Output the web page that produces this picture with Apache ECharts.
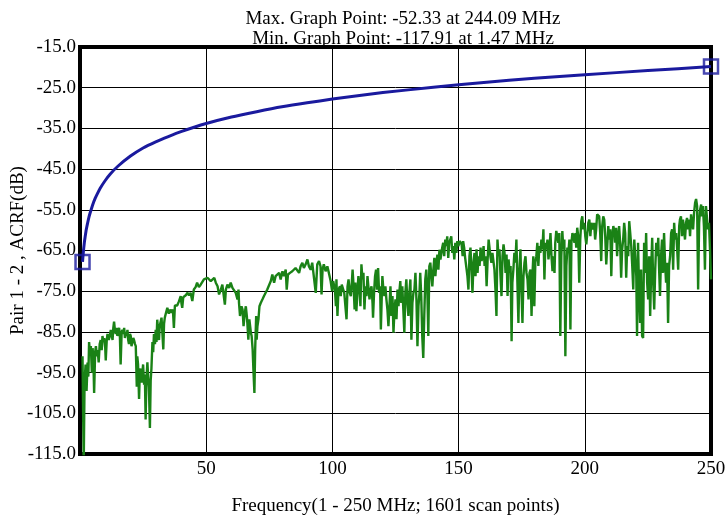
<!DOCTYPE html>
<html>
<head>
<meta charset="utf-8">
<script src="https://cdn.jsdelivr.net/npm/echarts@6/dist/echarts.min.js"></script>
<style>
  html, body { margin: 0; padding: 0; background: #fff; }
  #main { width: 727px; height: 515px; }
</style>
</head>
<body>
<div id="main"></div>
<script>
// limit line (blue)
const limitFreq = [1, 1.25, 1.5, 1.75, 2, 2.5, 3, 3.5, 4, 5, 6, 7, 8, 10, 12, 15, 20, 25, 30, 35, 40, 50, 60, 70, 80, 90, 100, 120, 140, 160, 180, 200, 225, 250];
const limitDb = [-67.8, -65.9, -64.3, -62.9, -61.8, -59.8, -58.3, -56.9, -55.8, -53.8, -52.2, -50.9, -49.7, -47.8, -46.2, -44.3, -41.8, -39.8, -38.3, -37.0, -35.8, -33.8, -32.2, -30.9, -29.7, -28.7, -27.8, -26.2, -24.9, -23.7, -22.7, -21.8, -20.8, -19.8];

// measured ACRF (green), [MHz, dB]
const acrf1to50 = [[1.0,-91.0],[1.47,-117.91],[1.8,-97.5],[2.2,-93.0],[2.6,-99.5],[3.0,-92.5],[3.3,-96.0],[3.6,-87.5],[4.0,-90.5],[4.3,-88.5],[4.7,-95.0],[5.0,-89.0],[5.3,-92.0],[5.6,-100.0],[6.0,-90.0],[6.3,-88.5],[6.7,-91.0],[7.0,-89.5],[7.4,-92.5],[7.8,-88.0],[8.2,-87.0],[8.6,-89.5],[8.9,-86.0],[9.3,-87.5],[9.6,-86.5],[10.0,-89.0],[10.2,-92.0],[10.6,-87.0],[10.9,-85.5],[11.4,-87.0],[11.8,-86.0],[12.2,-84.5],[12.6,-86.0],[12.9,-87.0],[13.2,-84.0],[13.5,-82.5],[13.9,-85.0],[14.2,-85.5],[14.5,-84.0],[14.8,-86.0],[15.2,-84.5],[15.5,-84.0],[15.8,-86.0],[16.1,-93.0],[16.5,-85.0],[16.8,-84.5],[17.2,-85.5],[17.5,-84.0],[17.8,-86.5],[18.1,-85.0],[18.5,-86.0],[18.8,-84.5],[19.1,-87.0],[19.4,-88.0],[19.8,-85.5],[20.1,-86.0],[20.4,-88.5],[20.8,-88.5],[21.1,-86.5],[21.4,-87.0],[21.8,-88.0],[22.1,-88.5],[22.5,-98.5],[22.7,-91.0],[23.0,-93.0],[23.4,-101.5],[23.7,-95.0],[24.0,-94.0],[24.4,-97.5],[24.7,-97.5],[25.0,-93.0],[25.4,-98.0],[25.7,-95.5],[26.0,-106.5],[26.3,-97.0],[26.7,-92.5],[27.0,-96.0],[27.3,-98.5],[27.7,-108.6],[28.0,-97.0],[28.3,-94.0],[28.7,-87.5],[29.0,-90.0],[29.3,-85.5],[29.7,-88.0],[30.0,-84.5],[30.3,-87.5],[30.6,-82.0],[31.0,-85.0],[31.3,-87.0],[31.6,-83.5],[32.0,-83.6],[32.3,-81.5],[32.6,-81.1],[33.0,-89.3],[33.3,-83.0],[33.6,-81.5],[34.0,-80.5],[34.6,-79.1],[35.2,-80.5],[35.9,-79.5],[36.3,-80.3],[36.8,-79.5],[37.2,-84.0],[37.6,-78.5],[37.9,-78.3],[38.5,-78.5],[39.2,-77.5],[39.9,-76.2],[40.2,-78.0],[40.5,-79.1],[40.9,-76.5],[41.2,-76.2],[41.9,-76.0],[42.5,-75.4],[43.2,-76.0],[43.8,-75.4],[44.5,-77.4],[45.1,-74.6],[45.8,-74.0],[46.4,-72.9],[47.1,-74.0],[47.8,-73.4],[48.4,-73.0],[49.1,-72.1],[49.8,-72.5]];

const acrf50to100 = [[50.5,-71.7],[51.8,-72.5],[53.2,-71.7],[53.8,-72.9],[54.5,-73.8],[55.1,-75.8],[55.8,-74.6],[56.4,-73.4],[57.1,-73.8],[57.4,-78.3],[57.8,-74.6],[58.4,-73.4],[59.1,-74.2],[59.7,-72.9],[60.4,-74.2],[61.1,-74.6],[61.7,-75.4],[62.4,-77.0],[62.8,-74.6],[63.0,-77.9],[63.4,-81.1],[64.0,-78.7],[64.4,-79.5],[64.8,-83.6],[65.3,-80.3],[65.7,-78.7],[66.1,-81.1],[66.3,-82.8],[66.7,-86.9],[67.1,-81.9],[67.7,-85.2],[68.0,-86.0],[68.4,-89.3],[68.7,-94.2],[69.1,-100.0],[69.4,-89.3],[69.8,-81.1],[70.0,-86.9],[70.3,-83.6],[70.7,-81.9],[71.1,-78.7],[71.6,-77.9],[72.3,-77.0],[72.9,-76.2],[73.6,-75.8],[74.2,-74.6],[74.9,-74.2],[75.6,-72.5],[76.2,-70.9],[76.9,-72.9],[77.5,-71.3],[78.2,-71.7],[78.9,-70.5],[79.5,-72.1],[80.2,-70.1],[80.8,-71.3],[81.5,-69.7],[81.9,-74.6],[82.4,-70.9],[83.2,-70.5],[84.1,-70.1],[84.8,-70.5],[85.4,-69.3],[86.1,-68.9],[86.8,-70.5],[87.4,-68.9],[88.1,-68.0],[88.7,-69.3],[89.4,-68.4],[90.1,-67.2],[90.7,-68.9],[91.4,-69.7],[92.0,-68.0],[92.7,-68.4],[93.4,-75.4],[94.0,-68.4],[94.7,-67.6],[95.3,-68.9],[95.7,-75.8],[96.1,-69.7],[96.6,-68.4],[97.3,-70.1],[98.0,-68.9],[98.6,-70.5],[99.3,-72.5],[99.9,-75.0]];

const acrf100to150 = [[100.3,-72.5],[101.0,-74.6],[101.4,-78.7],[101.6,-72.1],[102.0,-81.1],[102.4,-74.6],[103.0,-73.8],[103.3,-76.2],[103.7,-73.4],[104.3,-74.6],[104.7,-75.4],[105.2,-75.4],[105.6,-81.9],[106.0,-73.8],[106.4,-72.1],[106.9,-75.4],[107.3,-76.2],[107.7,-72.9],[108.0,-69.7],[108.4,-73.8],[108.8,-79.5],[109.1,-72.9],[109.5,-79.9],[109.9,-75.4],[110.3,-71.3],[110.7,-73.8],[111.1,-78.7],[111.5,-68.4],[111.9,-72.1],[112.3,-70.5],[112.7,-79.5],[113.1,-73.8],[113.5,-76.2],[113.9,-71.3],[114.3,-74.2],[114.7,-77.0],[115.1,-74.6],[115.5,-73.8],[115.9,-77.9],[116.1,-81.5],[116.5,-75.4],[116.9,-71.3],[117.3,-69.7],[117.7,-74.6],[118.1,-69.3],[118.5,-75.4],[118.9,-73.8],[119.2,-84.4],[119.6,-75.4],[119.8,-71.3],[120.2,-74.6],[120.6,-76.2],[121.0,-73.8],[121.4,-77.0],[121.8,-79.5],[122.2,-83.6],[122.6,-78.7],[123.0,-73.8],[123.4,-81.1],[123.8,-76.2],[124.2,-85.2],[124.6,-79.5],[125.0,-77.0],[125.4,-81.9],[125.8,-74.6],[126.2,-78.7],[126.5,-75.4],[126.9,-72.5],[127.3,-77.9],[127.7,-73.8],[128.1,-79.5],[128.5,-85.2],[128.9,-75.4],[129.3,-72.1],[129.7,-77.9],[130.1,-81.1],[130.5,-75.4],[130.9,-72.1],[131.3,-86.9],[131.7,-77.9],[132.1,-75.4],[132.5,-74.6],[132.9,-70.5],[133.3,-77.0],[133.7,-88.5],[134.1,-78.7],[134.5,-75.4],[134.8,-70.5],[135.2,-76.2],[135.6,-86.0],[136.0,-91.4],[136.4,-81.1],[136.8,-72.1],[137.2,-69.7],[137.6,-74.6],[138.0,-86.0],[138.4,-68.9],[138.8,-68.0],[139.2,-71.3],[139.6,-73.8],[140.0,-69.7],[140.4,-66.8],[140.8,-71.3],[141.2,-68.0],[141.6,-66.0],[142.0,-69.7],[142.4,-64.8],[142.8,-67.2],[143.2,-65.6],[143.5,-64.3],[143.9,-63.1],[144.3,-66.4],[144.7,-62.3],[145.1,-63.9],[145.5,-61.5],[145.9,-66.8],[146.3,-63.1],[146.7,-62.3],[147.1,-61.5],[147.5,-65.6],[147.9,-63.9],[148.3,-67.2],[148.7,-63.1],[149.1,-65.6],[149.5,-62.7],[149.9,-63.9]];

const acrf150to200 = [[150.5,-62.7],[151.2,-63.5],[151.6,-66.4],[151.8,-62.7],[152.2,-64.3],[152.6,-66.8],[153.2,-67.2],[153.5,-71.3],[153.9,-74.6],[154.3,-66.4],[154.7,-64.3],[155.1,-69.7],[155.5,-75.4],[155.9,-68.0],[156.3,-65.6],[156.7,-71.3],[157.1,-64.7],[157.5,-70.5],[157.9,-66.4],[158.3,-68.8],[158.7,-64.3],[159.1,-67.6],[159.5,-66.4],[159.9,-63.9],[160.3,-68.8],[160.7,-66.4],[161.1,-73.8],[161.5,-67.2],[161.9,-62.3],[162.2,-61.9],[162.6,-66.4],[163.0,-68.0],[163.4,-65.6],[163.8,-67.6],[164.2,-69.7],[164.6,-74.6],[165.0,-81.1],[165.4,-62.3],[165.8,-66.4],[166.2,-64.7],[166.6,-71.3],[167.0,-76.2],[167.4,-66.4],[167.8,-63.5],[168.2,-65.6],[168.6,-70.5],[169.0,-66.0],[169.4,-76.2],[169.8,-67.2],[170.2,-70.5],[170.6,-68.8],[171.0,-87.3],[171.3,-72.9],[171.7,-69.7],[172.1,-65.6],[172.5,-68.0],[172.9,-62.3],[173.3,-72.9],[173.7,-82.8],[174.1,-69.7],[174.5,-64.7],[174.9,-74.6],[175.3,-82.8],[175.7,-71.3],[176.1,-68.0],[176.5,-66.4],[176.9,-70.5],[177.3,-72.1],[177.7,-77.0],[178.1,-70.5],[178.5,-69.7],[178.9,-81.1],[179.3,-70.5],[179.6,-66.4],[180.0,-78.7],[180.4,-68.0],[180.8,-66.4],[181.2,-63.1],[181.6,-68.8],[182.0,-63.9],[182.4,-65.6],[182.8,-62.3],[183.2,-64.7],[183.6,-59.8],[184.0,-72.1],[184.4,-63.1],[184.8,-64.7],[185.2,-62.3],[185.6,-67.2],[186.0,-64.7],[186.4,-60.7],[186.8,-66.4],[187.2,-70.1],[187.6,-66.4],[188.0,-70.5],[188.3,-63.1],[188.7,-60.2],[189.1,-61.5],[189.5,-63.1],[189.9,-60.7],[190.3,-86.0],[190.7,-66.4],[191.1,-60.2],[191.5,-64.7],[191.9,-62.3],[192.3,-91.0],[192.7,-68.8],[193.1,-64.3],[193.5,-65.6],[193.9,-62.3],[194.3,-84.4],[194.7,-63.1],[195.1,-60.7],[195.5,-61.5],[195.9,-63.1],[196.3,-60.7],[196.6,-64.3],[197.0,-59.4],[197.4,-61.5],[197.8,-72.9],[198.2,-62.3],[198.6,-57.8],[199.0,-56.6],[199.4,-59.8],[199.8,-58.2]];

const acrf200to250 = [[200.2,-61.5],[200.6,-63.5],[201.0,-60.7],[201.4,-58.2],[201.8,-57.4],[202.2,-61.5],[202.6,-58.2],[203.0,-57.8],[203.3,-59.8],[203.7,-58.2],[204.1,-62.3],[204.5,-59.8],[204.9,-56.1],[205.3,-55.7],[205.7,-56.6],[206.1,-60.7],[206.5,-67.6],[206.9,-59.0],[207.3,-56.6],[207.7,-57.4],[208.1,-61.5],[208.5,-68.4],[208.9,-63.9],[209.3,-59.0],[209.7,-62.3],[210.1,-59.8],[210.5,-71.3],[210.9,-61.5],[211.3,-59.0],[211.7,-60.2],[212.0,-63.1],[212.4,-59.4],[212.8,-66.4],[213.2,-61.5],[213.6,-59.0],[214.0,-63.1],[214.4,-71.7],[214.8,-64.7],[215.2,-62.3],[215.6,-58.2],[216.0,-60.7],[216.4,-71.7],[216.8,-63.9],[217.2,-66.4],[217.6,-57.8],[218.0,-60.7],[218.4,-63.9],[218.8,-68.8],[219.2,-74.6],[219.6,-62.3],[220.0,-66.4],[220.4,-71.3],[220.7,-86.0],[221.1,-63.1],[221.5,-74.6],[221.9,-82.8],[222.3,-69.7],[222.7,-86.0],[223.1,-86.5],[223.5,-63.1],[223.9,-70.5],[224.3,-60.7],[224.7,-72.9],[225.1,-77.0],[225.5,-66.4],[225.9,-81.1],[226.3,-69.7],[226.7,-61.9],[227.1,-72.9],[227.5,-79.5],[227.9,-69.7],[228.3,-63.1],[228.7,-66.4],[229.1,-61.9],[229.4,-68.8],[229.8,-76.2],[230.2,-66.4],[230.6,-62.3],[231.0,-70.5],[231.4,-60.7],[231.8,-68.0],[232.2,-72.9],[232.6,-68.0],[233.0,-82.8],[233.4,-68.8],[233.8,-66.4],[234.2,-60.7],[234.6,-59.8],[235.0,-69.7],[235.4,-58.2],[235.8,-62.3],[236.2,-60.7],[236.6,-64.7],[237.0,-69.7],[237.4,-59.0],[237.7,-57.4],[238.1,-56.6],[238.5,-61.5],[238.9,-57.4],[239.3,-59.8],[239.7,-62.3],[240.1,-58.2],[240.5,-57.0],[240.9,-59.8],[241.3,-57.4],[241.7,-61.5],[242.1,-56.1],[242.5,-58.2],[242.9,-59.8],[243.3,-55.7],[243.7,-53.3],[244.09,-52.33],[244.5,-54.1],[244.9,-74.6],[245.3,-58.2],[245.7,-54.9],[246.1,-53.7],[246.4,-56.6],[246.8,-54.1],[247.2,-59.0],[247.6,-69.7],[248.0,-54.1],[248.4,-53.7],[248.8,-59.8],[249.2,-58.2],[249.6,-64.7],[250.0,-72.1]];

const yMin = -115, yMax = -15, yStep = 10;
const xMax = 250, xStep = 50;

const titleLines = ['Max. Graph Point: -52.33 at 244.09 MHz', 'Min. Graph Point: -117.91 at 1.47 MHz'];
const xName = 'Frequency(1 - 250 MHz; 1601 scan points)';
const yName = 'Pair 1 - 2 , ACRF(dB)';

const FONT = '"Liberation Serif", "Times New Roman", serif';
const BLUE = '#1a1a9e';
const GREEN = '#1a8216';

const limitData = limitFreq.map((f, i) => [f, limitDb[i]]);
const measured = acrf1to50.concat(acrf50to100, acrf100to150, acrf150to200, acrf200to250);

const chart = echarts.init(document.getElementById('main'), null, { renderer: 'canvas' });
chart.setOption({
  animation: false,
  backgroundColor: '#fff',
  title: {
    text: titleLines.join('\n'),
    left: 398,
    top: 4,
    textAlign: 'center',
    textStyle: { fontFamily: FONT, fontSize: 19, fontWeight: 'normal', color: '#000', lineHeight: 20 }
  },
  grid: {
    left: 80, right: 16, top: 47, bottom: 61,
    outerBoundsMode: 'none',
    containLabel: false,
    show: true, borderColor: '#000', borderWidth: 4, backgroundColor: 'transparent'
  },
  xAxis: {
    type: 'value',
    min: 0, max: xMax, interval: xStep,
    name: xName,
    nameLocation: 'middle',
    nameGap: 43,
    nameMoveOverlap: false,
    nameTextStyle: { fontFamily: FONT, fontSize: 19, color: '#000' },
    axisLine: { show: true, lineStyle: { color: '#000', width: 4 } },
    axisTick: { show: false },
    axisLabel: {
      fontFamily: FONT, fontSize: 19, color: '#000', margin: 6,
      formatter: v => (v === 0 ? '' : String(v))
    },
    splitLine: { show: true, lineStyle: { color: '#000', width: 1 } }
  },
  yAxis: {
    type: 'value',
    min: yMin, max: yMax, interval: yStep,
    name: yName,
    nameLocation: 'middle',
    nameRotate: 90,
    nameGap: 52,
    nameMoveOverlap: false,
    nameTextStyle: { fontFamily: FONT, fontSize: 19, color: '#000' },
    axisLine: { show: true, lineStyle: { color: '#000', width: 4 } },
    axisTick: { show: false },
    axisLabel: {
      fontFamily: FONT, fontSize: 19, color: '#000', margin: 4,
      formatter: v => v.toFixed(1)
    },
    splitLine: { show: true, lineStyle: { color: '#000', width: 1 } }
  },
  series: [
    {
      name: 'ACRF',
      type: 'line',
      data: measured,
      showSymbol: false,
      lineStyle: { color: GREEN, width: 2.4 },
      z: 2
    },
    {
      name: 'Limit',
      type: 'line',
      data: limitData,
      showSymbol: false,
      smooth: 0.2,
      lineStyle: { color: BLUE, width: 3 },
      z: 3
    },
    {
      name: 'Limit ends',
      type: 'scatter',
      data: [limitData[0], limitData[limitData.length - 1]],
      symbol: 'rect',
      symbolSize: 14,
      clip: false,
      itemStyle: { color: 'transparent', borderColor: BLUE, borderWidth: 2.5 },
      z: 4
    }
  ]
});
</script>
</body>
</html>
